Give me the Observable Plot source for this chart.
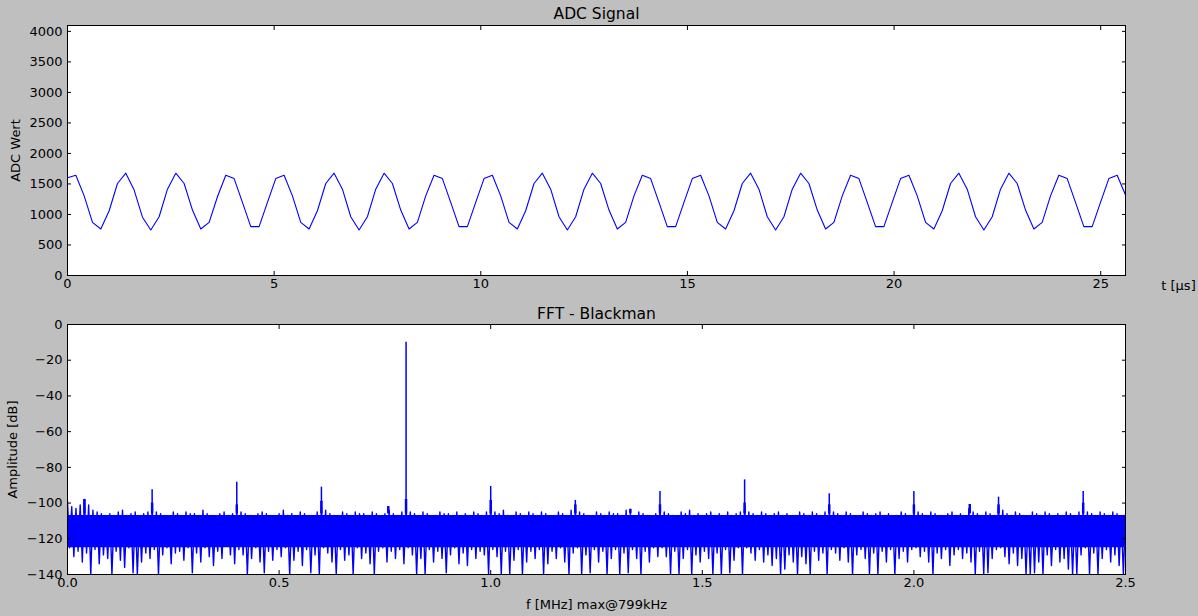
<!DOCTYPE html>
<html><head><meta charset="utf-8">
<script src="https://cdn.jsdelivr.net/npm/d3@7"></script>
<script src="https://cdn.jsdelivr.net/npm/@observablehq/plot@0.6"></script>
<style>
html,body{margin:0;padding:0;background:#bfbfbf;}
#chart svg{display:block;}
</style></head><body><div id="chart"></div>
<script>
// ---- ADC signal (top) ----
const adcDuration = 25.6; // µs, samples spread over [0, 25.6]
const adcValues = [
 1600,1643,1305,870,762,1061,1507,1676,1400,955,745,963,1415,1676,1507,1072,762,870,1290,1643,1588,1197,800,800,1197,
 1588,1643,1305,870,762,1061,1507,1676,1415,963,745,963,1415,1676,1507,1072,762,870,1305,1643,1588,1197,800,800,1197,
 1588,1643,1305,870,762,1061,1507,1676,1415,963,745,963,1415,1676,1507,1072,762,870,1305,1643,1588,1197,800,800,1197,
 1588,1643,1305,870,762,1061,1507,1676,1415,963,745,963,1415,1676,1507,1072,762,870,1305,1643,1588,1197,800,800,1197,
 1588,1643,1305,870,762,1061,1507,1676,1415,963,745,963,1415,1676,1507,1072,762,870,1305,1643,1588,1197,800,800,1197,
 1588,1643,1320
];
const adcXTicks = [0,5,10,15,20,25];
const adcYTicks = [0,500,1000,1500,2000,2500,3000,3500,4000];

// ---- FFT (bottom) ----
const fftBinStep = 0.01; // MHz per envelope bin
const fftHi = [
 -99,-102,-103,-101,-98,-101,-104,-105,-106,-107,
 -106,-107,-105,-104,-107,-106,-105,-108,-106,-105,
 -103,-105,-106,-107,-108,-105,-106,-107,-105,-106,
 -106,-107,-104,-106,-107,-108,-106,-105,-107,-106,
 -104,-105,-106,-107,-108,-106,-105,-106,-107,-108,
 -106,-104,-107,-106,-108,-105,-106,-107,-108,-105,
 -102,-104,-106,-107,-108,-105,-106,-107,-105,-106,
 -106,-107,-105,-106,-108,-106,-104,-106,-107,-105,
 -102,-105,-106,-107,-105,-106,-108,-107,-105,-106,
 -106,-107,-105,-108,-106,-107,-105,-106,-107,-105,
 -102,-105,-106,-104,-107,-108,-105,-106,-107,-105,
 -106,-107,-105,-106,-108,-107,-105,-106,-107,-104,
 -103,-105,-106,-107,-108,-105,-106,-107,-105,-106,
 -106,-107,-104,-106,-108,-105,-106,-107,-108,-106,
 -103,-105,-106,-107,-108,-105,-106,-104,-107,-106,
 -108,-106,-105,-107,-106,-108,-105,-107,-106,-105,
 -102,-105,-106,-107,-105,-106,-108,-106,-105,-107,
 -106,-108,-107,-105,-106,-107,-105,-106,-107,-105,
 -103,-105,-106,-107,-105,-106,-107,-108,-105,-106,
 -107,-106,-105,-107,-106,-108,-107,-105,-106,-107,
 -103,-105,-106,-107,-105,-106,-107,-108,-106,-105,
 -107,-106,-108,-103,-105,-106,-107,-105,-106,-107,
 -102,-104,-106,-107,-105,-106,-107,-108,-105,-106,
 -107,-105,-106,-108,-106,-107,-105,-106,-107,-105,
 -103,-105,-106,-107,-105,-106,-107,-105,-106,-107,
 -106
];
const fftLo = [
 -125,-130,-127,-133,-128,-140,-126,-134,-129,-131,
 -140,-127,-132,-136,-125,-139,-140,-133,-128,-131,
 -126,-140,-129,-125,-134,-128,-127,-132,-125,-139,
 -128,-133,-125,-130,-135,-127,-131,-124,-129,-134,
 -126,-129,-140,-131,-125,-133,-139,-127,-132,-126,
 -130,-125,-140,-132,-127,-135,-126,-139,-129,-140,
 -125,-128,-133,-140,-126,-132,-129,-140,-125,-131,
 -128,-134,-140,-127,-125,-133,-127,-131,-126,-134,
 -125,-129,-140,-131,-140,-126,-133,-127,-131,-139,
 -129,-125,-134,-128,-135,-126,-131,-127,-129,-140,
 -126,-130,-140,-127,-140,-132,-126,-140,-133,-127,
 -131,-126,-140,-134,-127,-131,-125,-133,-140,-128,
 -125,-140,-129,-139,-126,-133,-127,-140,-131,-126,
 -140,-128,-139,-126,-131,-140,-127,-133,-125,-130,
 -125,-130,-140,-127,-140,-131,-126,-140,-129,-133,
 -127,-131,-140,-128,-140,-126,-139,-132,-125,-140,
 -125,-128,-132,-126,-133,-129,-135,-131,-140,-137,
 -129,-133,-140,-130,-134,-140,-127,-132,-128,-140,
 -126,-128,-132,-125,-133,-140,-129,-126,-131,-140,
 -128,-140,-127,-133,-126,-140,-131,-127,-133,-126,
 -125,-130,-127,-133,-140,-128,-131,-126,-135,-129,
 -126,-131,-128,-133,-140,-127,-140,-139,-131,-126,
 -125,-130,-134,-128,-135,-131,-140,-140,-139,-133,
 -140,-129,-135,-126,-133,-131,-137,-140,-140,-129,
 -125,-140,-128,-140,-131,-126,-133,-129,-135,-140,
 -130
];
const noiseCore = [-125, -107]; // solid part of the noise floor, dB
const fftPeakFreq   = [0.04,0.2,0.4,0.6,0.758,0.8,1.0,1.2,1.33,1.4,1.6,1.8,2.0,2.132,2.2,2.4];
const fftPeakDb     = [-98,-92.6,-88.3,-91.1,-102,-10,-90.7,-98.5,-103.5,-93.5,-87,-94.8,-93.5,-100.8,-96.7,-93.5];
const fftPeakBaseDb = [-98,-100,-101,-99,-102,-98,-98.5,-101,-103.5,-101,-100,-101,-101,-100.8,-101,-100];
const fftXTicks = [0,0.5,1,1.5,2,2.5];
const fftYTicks = [0,-20,-40,-60,-80,-100,-120,-140];

const blue = "#0000ff";
const common = {
  width: 1198, marginLeft: 67, marginRight: 73,
  style: {fontFamily: "'DejaVu Sans', sans-serif", fontSize: "13px", background: "transparent", color: "black", overflow: "visible"}
};
const fmtInt = d3.format("d");

const adcData = adcValues.map((v, i) => ({t: i * adcDuration / (adcValues.length - 1), v}));

const topChart = Plot.plot({
  ...common, height: 300, marginTop: 25, marginBottom: 25,
  x: {domain: [0, adcDuration]}, y: {domain: [0, 4096]},
  marks: [
    Plot.frame({fill: "white", stroke: null}),
    Plot.line(adcData, {x: "t", y: "v", stroke: blue, strokeWidth: 1.1, clip: true}),
    Plot.axisX(adcXTicks, {anchor: "bottom", tickSize: -4, tickPadding: 7, tickFormat: fmtInt, label: null}),
    Plot.axisX(adcXTicks, {anchor: "top", tickSize: -4, tickFormat: () => "", label: null}),
    Plot.axisY(adcYTicks, {anchor: "left", tickSize: -4, tickPadding: 9, tickFormat: fmtInt, label: null}),
    Plot.axisY(adcYTicks, {anchor: "right", tickSize: -4, tickFormat: () => "", label: null}),
    Plot.frame({stroke: "black"}),
    Plot.text(["ADC Signal"], {frameAnchor: "top", lineAnchor: "middle", dy: -11, fontSize: 15.5}),
    Plot.text(["ADC Wert"], {frameAnchor: "left", lineAnchor: "middle", textAnchor: "middle", rotate: -90, dx: -52}),
    Plot.text(["t [μs]"], {frameAnchor: "bottom-right", lineAnchor: "middle", dx: 53, dy: 10, textAnchor: "middle"})
  ]
});

const noisePts = [];
fftHi.forEach((h, i) => {
  noisePts.push({f: i * fftBinStep, v: h});
  noisePts.push({f: i * fftBinStep + fftBinStep / 2, v: fftLo[i]});
});
const peaks = fftPeakFreq.map((f, i) => ({f, db: fftPeakDb[i], base: fftPeakBaseDb[i]}));

const bottomChart = Plot.plot({
  ...common, height: 316, marginTop: 24, marginBottom: 42,
  x: {domain: [0, 2.5]}, y: {domain: [-140, 0]},
  marks: [
    Plot.frame({fill: "white", stroke: null}),
    Plot.areaY([0, 2.5], {x: d => d, y1: noiseCore[0], y2: noiseCore[1], fill: blue, clip: true}),
    Plot.line(noisePts, {x: "f", y: "v", stroke: blue, strokeWidth: 1.4, clip: true}),
    Plot.ruleX(peaks, {x: "f", y1: -106, y2: "base", stroke: blue, strokeWidth: 2.5, clip: true}),
    Plot.ruleX(peaks, {x: "f", y1: -106, y2: "db", stroke: blue, strokeWidth: 1.5, clip: true}),
    Plot.axisX(fftXTicks, {anchor: "bottom", tickSize: -4, tickPadding: 7, tickFormat: d3.format(".1f"), label: null}),
    Plot.axisX(fftXTicks, {anchor: "top", tickSize: -4, tickFormat: () => "", label: null}),
    Plot.axisY(fftYTicks, {anchor: "left", tickSize: -4, tickPadding: 9, tickFormat: fmtInt, label: null}),
    Plot.axisY(fftYTicks, {anchor: "right", tickSize: -4, tickFormat: () => "", label: null}),
    Plot.frame({stroke: "black"}),
    Plot.text(["FFT - Blackman"], {frameAnchor: "top", lineAnchor: "middle", dy: -10, fontSize: 15.5}),
    Plot.text(["Amplitude [dB]"], {frameAnchor: "left", lineAnchor: "middle", textAnchor: "middle", rotate: -90, dx: -55}),
    Plot.text(["f [MHz] max@799kHz"], {frameAnchor: "bottom", lineAnchor: "middle", dy: 30})
  ]
});

document.getElementById("chart").append(topChart, bottomChart);
</script></body></html>
